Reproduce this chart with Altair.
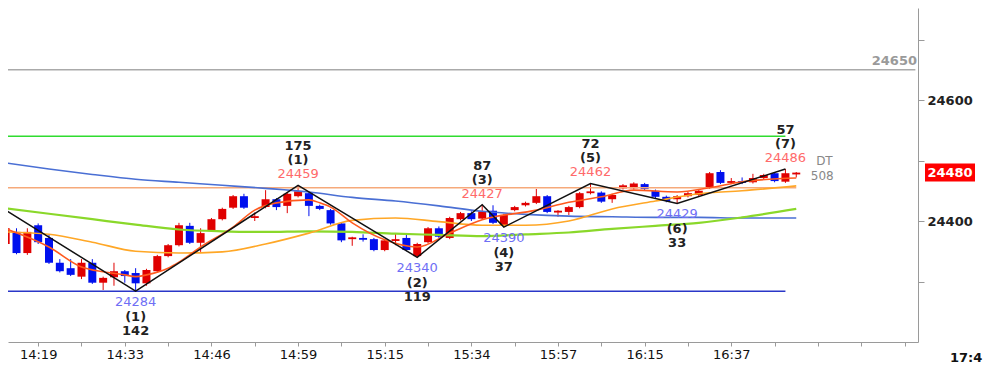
import altair as alt
import pandas as pd

# ---------------- data ----------------
opens  = [24362,24382,24347,24393,24372,24331,24322,24308,24331,24298,24307,24317,24314,24297,24317,24342,
          24360,24392,24364,24385,24403,24422,24441,24405,24423,24436,24425,24441,24446,24425,24418,24396,
          24370,24372,24370,24352,24367,24372,24342,24365,24388,24372,24403,24413,24404,24417,24392,24418,
          24426,24430,24441,24414,24415,24423,24446,24447,24436,24454,24454,24461,24450,24440,24436,24441,
          24443,24455,24481,24463,24466,24464,24471,24479,24465,24477]
highs  = [24392,24388,24388,24396,24377,24337,24337,24337,24337,24308,24331,24319,24322,24321,24344,24362,
          24397,24397,24388,24405,24422,24443,24445,24414,24451,24438,24447,24459,24448,24427,24420,24398,
          24374,24378,24372,24370,24380,24380,24364,24390,24391,24407,24415,24416,24427,24426,24412,24425,
          24432,24453,24443,24418,24425,24448,24462,24449,24445,24461,24464,24463,24452,24442,24443,24448,
          24452,24481,24484,24471,24472,24478,24478,24481,24486,24481]
lows   = [24358,24345,24344,24362,24329,24315,24309,24304,24296,24286,24293,24298,24284,24293,24315,24340,
          24358,24362,24349,24383,24401,24420,24420,24400,24421,24418,24413,24439,24408,24418,24394,24365,
          24359,24366,24350,24350,24360,24350,24340,24363,24372,24370,24401,24400,24402,24395,24390,24416,
          24424,24428,24413,24407,24410,24421,24444,24430,24430,24452,24452,24451,24438,24431,24429,24439,
          24441,24453,24461,24461,24461,24462,24469,24464,24463,24472]
closes = [24388,24347,24382,24365,24331,24317,24311,24331,24298,24306,24317,24309,24297,24319,24342,24360,
          24393,24364,24380,24403,24420,24441,24422,24408,24436,24423,24445,24449,24425,24420,24396,24368,
          24373,24369,24352,24368,24370,24352,24362,24388,24374,24405,24413,24403,24416,24397,24410,24423,
          24430,24441,24415,24417,24423,24446,24449,24432,24443,24459,24462,24453,24440,24433,24441,24446,
          24450,24479,24463,24466,24463,24471,24476,24466,24479,24480]

time_label_idx = [3, 11, 19, 27, 35, 43, 51, 59, 67]
time_labels = ["14:19", "14:33", "14:46", "14:59", "15:15", "15:34", "15:57", "16:15", "16:37"]
tick_idx = list(range(3, 84, 4))

ma_idx    = [0, 4, 8, 12, 16, 20, 24, 28, 32, 36, 40, 44, 48, 52, 56, 60, 64, 68, 73]
ma_blue   = [24496, 24486, 24477, 24469, 24464, 24459, 24454, 24448, 24439, 24433, 24425, 24416, 24411, 24408,
             24407, 24406, 24406, 24405, 24405]
ma_green  = [24421, 24412, 24403, 24394, 24386, 24383, 24382, 24383, 24382, 24379, 24377, 24375, 24378, 24381,
             24387, 24392, 24397, 24406, 24420]
ma_orange = [24382, 24378, 24365, 24350, 24347, 24349, 24362, 24380, 24401, 24405, 24399, 24393, 24393, 24400,
             24420, 24433, 24445, 24450, 24458]
sma_idx   = [0, 4, 7, 9, 11, 12, 13, 15, 16, 18, 21, 23, 25, 28, 29, 30, 32, 35, 38, 41, 44, 49, 52, 55, 58,
             62, 65, 68, 73]
sma_vals  = [24387, 24357, 24324, 24316, 24311, 24308, 24311, 24322, 24332, 24357, 24390, 24418, 24430, 24435,
             24430, 24423, 24397, 24369, 24357, 24380, 24402, 24418, 24431, 24440, 24451, 24448, 24455, 24465,
             24471]

zz_idx  = [0, 12, 27, 38, 44, 46, 54, 62, 72]
zz_vals = [24418, 24284, 24459, 24340, 24427, 24390, 24462, 24429, 24486]

low_idx  = [12, 38, 46, 62]
low_val  = [24284, 24340, 24390, 24429]
low_num  = ["(1)", "(2)", "(4)", "(6)"]
low_cnt  = ["142", "119", "37", "33"]
high_idx = [27, 44, 54, 72]
high_val = [24459, 24427, 24462, 24486]
high_num = ["(1)", "(3)", "(5)", "(7)"]
high_cnt = ["175", "87", "72", "57"]

level_vals   = [24540, 24455, 24284, 24650]
level_start  = [0, 0, 0, 0]
level_end    = [72, 73, 72, 84]
level_colors = ["#2fdc2f", "#f6a97a", "#2a36c8", "#aaaaaa"]

current_price = 24480
side_text = ["DT", "508"]
side_vals = [24499, 24475]
side_idx = [75.6, 75.4]
ref_label = "24650"
clock_label = "17:4"

# ---------------- chart ----------------
FONT = "DejaVu Sans"
XDOM = [0.676, 83.78]
YDOM = [24200, 24752.1]
RED = "#e00000"
BLUE = "#0010ee"

label_expr = " : ".join(f"datum.value == {i} ? '{t}'" for i, t in zip(time_label_idx, time_labels)) + " : ''"

xaxis = alt.Axis(values=tick_idx, labelExpr=label_expr, title=None, grid=False,
                 domainColor="#9a9a9a", tickColor="#9a9a9a", tickSize=4, labelFontSize=13,
                 labelColor="#111111", labelPadding=2, labelFlush=False, labelOverlap=False, labelFont=FONT)
yaxis = alt.Axis(orient="right", values=[24300, 24400, 24500, 24600, 24700],
                 labelExpr="(datum.value == 24400 || datum.value == 24600) ? format(datum.value, 'd') : ''",
                 title=None, grid=False, domainColor="#9a9a9a", tickColor="#9a9a9a", tickSize=6,
                 labelFontSize=13, labelFontWeight="bold", labelColor="#222222", labelPadding=3,
                 labelFont=FONT, labelOverlap=False, labelFlush=False)


def X(f):
    return alt.X(f, type="quantitative", scale=alt.Scale(domain=XDOM, nice=False, zero=False), axis=xaxis)


def Y(f):
    return alt.Y(f, type="quantitative", scale=alt.Scale(domain=YDOM, nice=False, zero=False), axis=yaxis)


candles = pd.DataFrame({"i": list(range(len(opens))), "o": opens, "h": highs, "l": lows, "c": closes})
candles["dir"] = ["up" if c >= o else "down" for o, c in zip(opens, closes)]
col = alt.Color("dir:N", scale=alt.Scale(domain=["up", "down"], range=[RED, BLUE]), legend=None)

wicks = alt.Chart(candles).mark_rule(strokeWidth=1, clip=True).encode(x=X("i"), y=Y("l"), y2="h", color=col)
bodies = alt.Chart(candles).mark_bar(size=8, clip=True).encode(x=X("i"), y=Y("o"), y2="c", color=col)

levels = pd.DataFrame({"v": level_vals, "s": level_start, "e": level_end, "col": level_colors})
level_layer = alt.Chart(levels).mark_rule(strokeWidth=1.6, clip=True).encode(
    x=X("s"), x2="e", y=Y("v"), color=alt.Color("col:N", scale=None))

ma = pd.DataFrame({"i": ma_idx, "b": ma_blue, "g": ma_green, "o": ma_orange})
ma_b = alt.Chart(ma).mark_line(color="#4a6fd4", strokeWidth=1.6, interpolate="monotone", clip=True).encode(x=X("i"), y=Y("b"))
ma_g = alt.Chart(ma).mark_line(color="#8ad82a", strokeWidth=2.2, interpolate="monotone", clip=True).encode(x=X("i"), y=Y("g"))
ma_o = alt.Chart(ma).mark_line(color="#ffa726", strokeWidth=1.6, interpolate="monotone", clip=True).encode(x=X("i"), y=Y("o"))
sma = pd.DataFrame({"i": sma_idx, "v": sma_vals})
ma_s = alt.Chart(sma).mark_line(color="#ff5a1f", strokeWidth=1.6, interpolate="monotone", clip=True).encode(x=X("i"), y=Y("v"))

zz = pd.DataFrame({"i": zz_idx, "v": zz_vals})
zz_layer = alt.Chart(zz).mark_line(color="#111111", strokeWidth=1.5, clip=True).encode(x=X("i"), y=Y("v"))

lows_df = pd.DataFrame({"i": low_idx, "v": low_val, "n": low_num, "c": low_cnt,
                        "vt": [str(v) for v in low_val]})
highs_df = pd.DataFrame({"i": high_idx, "v": high_val, "n": high_num, "c": high_cnt,
                         "vt": [str(v) for v in high_val]})


def txt(df, field, dy, color, weight="normal"):
    return alt.Chart(df).mark_text(dy=dy, color=color, fontSize=13, font=FONT, fontWeight=weight,
                                   baseline="middle", align="center").encode(
        x=X("i"), y=Y("v"), text=f"{field}:N")


texts = [
    txt(lows_df, "vt", 11, "#6f6ff5"), txt(lows_df, "n", 26, "#222222", "bold"), txt(lows_df, "c", 40, "#222222", "bold"),
    txt(highs_df, "vt", -11, "#ff6a6a"), txt(highs_df, "n", -25, "#222222", "bold"), txt(highs_df, "c", -39, "#222222", "bold"),
]

side_df = pd.DataFrame({"i": side_idx, "v": side_vals, "t": side_text})
side_layer = alt.Chart(side_df).mark_text(color="#888888", fontSize=12, font=FONT, baseline="middle").encode(
    x=X("i"), y=Y("v"), text="t:N")

price_df = pd.DataFrame({"p": [current_price], "t": [str(current_price)]})
price_box = alt.Chart(price_df).mark_point(shape="M-1,-0.36L1,-0.36L1,0.36L-1,0.36Z", size=2500,
                                           filled=True, color="#ff0000", opacity=1, strokeWidth=0).encode(
    x=alt.value(942), y=Y("p"))
price_txt = alt.Chart(price_df).mark_text(color="white", fontSize=13, fontWeight="bold", font=FONT,
                                          baseline="middle", align="center").encode(
    x=alt.value(942), y=Y("p"), text="t:N")

ref_df = pd.DataFrame({"v": [level_vals[3]], "t": [ref_label]})
ref_txt = alt.Chart(ref_df).mark_text(color="#9a9a9a", fontSize=13, fontWeight="bold", font=FONT,
                                      align="right", baseline="middle", dy=-9).encode(
    x=alt.value(909), y=Y("v"), text="t:N")

clock_df = pd.DataFrame({"t": [clock_label]})
clock_txt = alt.Chart(clock_df).mark_text(color="#111111", fontSize=13, fontWeight="bold", font=FONT,
                                          align="left", baseline="middle").encode(
    x=alt.value(942), y=alt.value(350), text="t:N")

chart = alt.layer(
    wicks, bodies, level_layer, ma_b, ma_g, ma_o, ma_s, zz_layer, *texts, side_layer,
    price_box, price_txt, ref_txt, clock_txt
).properties(
    width=910, height=334,
    autosize=alt.AutoSizeParams(type="none"),
    padding={"left": 0, "top": 0, "right": 70, "bottom": 30},
    background="white",
).configure(font=FONT).configure_view(stroke=None)

chart.save("out.html", embed_options={"renderer": "svg", "actions": False})
